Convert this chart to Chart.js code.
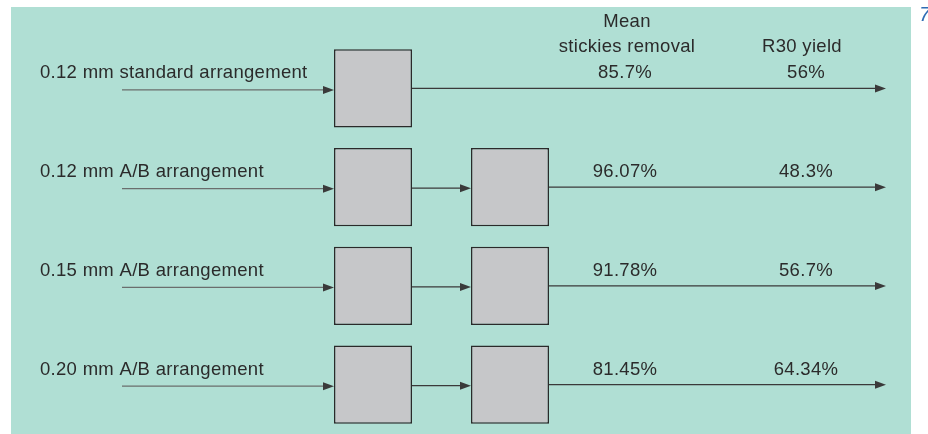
<!DOCTYPE html>
<html>
<head>
<meta charset="utf-8">
<script src="https://cdn.jsdelivr.net/npm/chart.js@4/dist/chart.umd.min.js"></script>
<style>
  html, body { margin: 0; padding: 0; background: #fff; }
  #wrap { width: 928px; height: 434px; }
</style>
</head>
<body>
<div id="wrap"><canvas id="flow" width="928" height="434"></canvas></div>
<script>
"use strict";

// process arrangements, one row each
const ROWS = ["0.12 mm standard arrangement", "0.12 mm A/B arrangement",
              "0.15 mm A/B arrangement", "0.20 mm A/B arrangement"];
const STAGES = [1, 2, 2, 2];                       // screening stages per arrangement
const REMOVAL = [85.7, 96.07, 91.78, 81.45];        // mean stickies removal, %
const YIELD = [56, 48.3, 56.7, 64.34];              // R30 yield, %
const HEADERS = [["Mean", "stickies removal"], ["R30 yield"]];

// layout (x axis units == px, axis spans the canvas)
const BOX_X = [[334, 412], [471, 549]];
const FEED_X = 122, OUT_X = 886, LABEL_X = 40, COL_X = [625, 806];
const PANEL = { l: 11, r: 911, t: 7, b: 434 };
const INK = "#3a3a3a", FEED = "#6a6e6d", TXT = "#2b2b2b";
const FONT = "18.5px 'Liberation Sans', Arial, sans-serif";

const pct = (v) => String(v) + "%";

function arrow(ctx, x0, x1, y, col) {
  ctx.strokeStyle = col; ctx.fillStyle = INK;
  ctx.beginPath();
  ctx.moveTo(x0, y); ctx.lineTo(x1 - 8, y);
  ctx.stroke();
  ctx.beginPath();
  ctx.moveTo(x1, y); ctx.lineTo(x1 - 11, y - 4); ctx.lineTo(x1 - 11, y + 4);
  ctx.closePath(); ctx.fill();
}

const diagram = {
  id: "diagram",
  beforeDraw(chart) {
    const { ctx, scales: { x } } = chart;
    ctx.save();
    ctx.fillStyle = "#fff";
    ctx.fillRect(0, 0, chart.width, chart.height);
    ctx.fillStyle = "#b0dfd4";
    ctx.fillRect(x.getPixelForValue(PANEL.l), PANEL.t,
                 x.getPixelForValue(PANEL.r) - x.getPixelForValue(PANEL.l), PANEL.b - PANEL.t);
    ctx.restore();
  },
  afterDatasetsDraw(chart) {
    const { ctx, scales: { x, y } } = chart;
    ctx.save();
    ctx.lineWidth = 1.4;
    ROWS.forEach((_, i) => {
      const cy = y.getPixelForValue(i);
      arrow(ctx, x.getPixelForValue(FEED_X), x.getPixelForValue(BOX_X[0][0]), cy + 1.5, FEED);
      for (let s = 1; s < STAGES[i]; s++)
        arrow(ctx, x.getPixelForValue(BOX_X[s - 1][1]), x.getPixelForValue(BOX_X[s][0]), cy + 1, INK);
      arrow(ctx, x.getPixelForValue(BOX_X[STAGES[i] - 1][1]), x.getPixelForValue(OUT_X), cy, INK);
    });

    ctx.font = FONT; ctx.fillStyle = TXT; ctx.textBaseline = "middle";
    ctx.letterSpacing = "0.3px";
    ROWS.forEach((name, i) => {
      const ty = y.getPixelForValue(i) - 15;
      ctx.textAlign = "left";
      ctx.fillText(name, x.getPixelForValue(LABEL_X), ty);
      ctx.textAlign = "center";
      ctx.fillText(pct(REMOVAL[i]), x.getPixelForValue(COL_X[0]), ty);
      ctx.fillText(pct(YIELD[i]), x.getPixelForValue(COL_X[1]), ty);
    });
    // column headers, bottom line sits one text row above the first values
    const y0 = y.getPixelForValue(0) - 15;
    HEADERS.forEach((lines, c) => {
      lines.forEach((t, k) => {
        ctx.fillText(t, x.getPixelForValue(COL_X[c] + (c === 0 ? 2 : -4)), y0 - 25 * (lines.length - k) - 1);
      });
    });
    // figure number, clipped at the page edge
    ctx.letterSpacing = "0px";
    ctx.fillStyle = "#2f6db5";
    ctx.font = "italic 21px 'Liberation Sans', Arial, sans-serif";
    ctx.textAlign = "left";
    ctx.fillText("7", x.getPixelForValue(919), 15);
    ctx.restore();
  },
};

const datasets = BOX_X.map((bx, s) => ({
  label: "stage " + (s + 1),
  data: ROWS.map((_, i) => (STAGES[i] > s ? bx : null)),
  backgroundColor: "#c6c7c9", borderColor: "#2a2a2a", borderWidth: 1.5, borderSkipped: false,
  grouped: false, categoryPercentage: 1, barPercentage: 0.79,
}));

new Chart(document.getElementById("flow"), {
  type: "bar",
  data: { labels: ROWS, datasets },
  options: {
    indexAxis: "y", responsive: false, animation: false,
    layout: { padding: { top: 39, bottom: -2, left: 0, right: 0 } },
    plugins: { legend: { display: false }, tooltip: { enabled: false } },
    scales: {
      x: { type: "linear", min: 0, max: 928, display: false },
      y: { type: "category", display: false },
    },
  },
  plugins: [diagram],
});
</script>
</body>
</html>
